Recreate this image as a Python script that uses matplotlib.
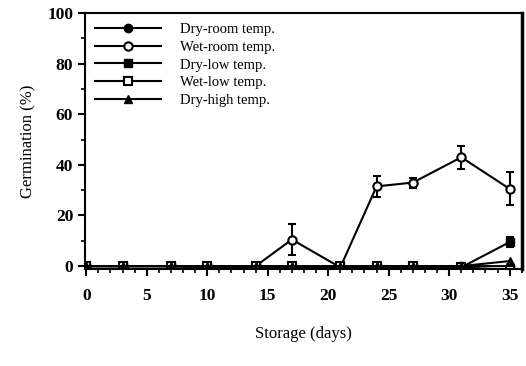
import matplotlib
matplotlib.use('Agg')
import matplotlib.pyplot as plt
from matplotlib.ticker import MultipleLocator

plt.rcParams['font.family'] = ['Liberation Serif', 'DejaVu Serif']

# storage time (days)
days = [0, 3, 7, 10, 14, 17, 21, 24, 27, 31, 35]

# germination (%)
dry_room = [0, 0, 0, -0.5, 0, 0, 0, 0, 0, 0, 0]
wet_room = [0, 0, 0, 0, 0, 10.5, -0.5, 31.5, 33, 43, 30.5]
wet_room_err = [0, 0, 0, 0, 0, 6, 0, 4, 2, 4.5, 6.5]
dry_low = [0, 0, 0, -0.5, -0.5, -0.5, -0.5, -0.5, -0.5, -0.5, 9.5]
dry_low_err = [0, 0, 0, 0, 0, 0, 0, 0, 0, 0, 2]
wet_low = [0, 0, 0, 0, 0, 0, 0, 0, 0, -0.5, -1.5]
dry_high = [0, 0, 0, 0, 0, 0, 0, 0, 0, 0, 2]

labels = ['Dry-room temp.', 'Wet-room temp.', 'Dry-low temp.',
          'Wet-low temp.', 'Dry-high temp.']

fig = plt.figure(figsize=(5.26, 3.66), dpi=100)
ax = fig.add_axes([0.1616, 0.266, 0.8304, 0.6985])

kw = dict(color='black', lw=1.5, capsize=3, capthick=1.5, elinewidth=1.5)
series = [
    ax.errorbar(days, dry_room, marker='o', ms=6, mfc='black', **kw),
    ax.errorbar(days, wet_room, yerr=wet_room_err, marker='o', ms=6, mfc='white',
                mew=1.5, **kw),
    ax.errorbar(days, dry_low, yerr=dry_low_err, marker='s', ms=6, mfc='black', **kw),
    ax.errorbar(days, wet_low, marker='s', ms=6, mfc='white', mew=1.5, **kw),
    ax.errorbar(days, dry_high, marker='^', ms=6, mfc='black', **kw),
]

ax.set_xlim(-0.1, 36)
ax.set_ylim(-1, 100)
ax.xaxis.set_major_locator(MultipleLocator(5))
ax.xaxis.set_minor_locator(MultipleLocator(1))
ax.yaxis.set_major_locator(MultipleLocator(20))
ax.yaxis.set_minor_locator(MultipleLocator(10))
ax.tick_params(which='major', length=5, width=1.5, labelsize=12.5, direction='out')
ax.tick_params(axis='x', which='major', pad=9)
ax.tick_params(which='minor', length=3, width=1.2, direction='out')
for lab in ax.get_xticklabels() + ax.get_yticklabels():
    lab.set_fontweight('bold')
for side in ['left', 'bottom', 'top']:
    ax.spines[side].set_linewidth(1.5)
ax.spines['right'].set_linewidth(2.5)

ax.set_xlabel('Storage (days)', fontsize=12, labelpad=16)
ax.set_ylabel('Germination (%)', fontsize=12, labelpad=8)

ax.legend([s.lines[0] for s in series], labels, loc='upper left', frameon=False,
          fontsize=10.5, handlelength=4.5, borderaxespad=0.3, labelspacing=0.3,
          handletextpad=1.3)

fig.savefig('out.png', dpi=100)
